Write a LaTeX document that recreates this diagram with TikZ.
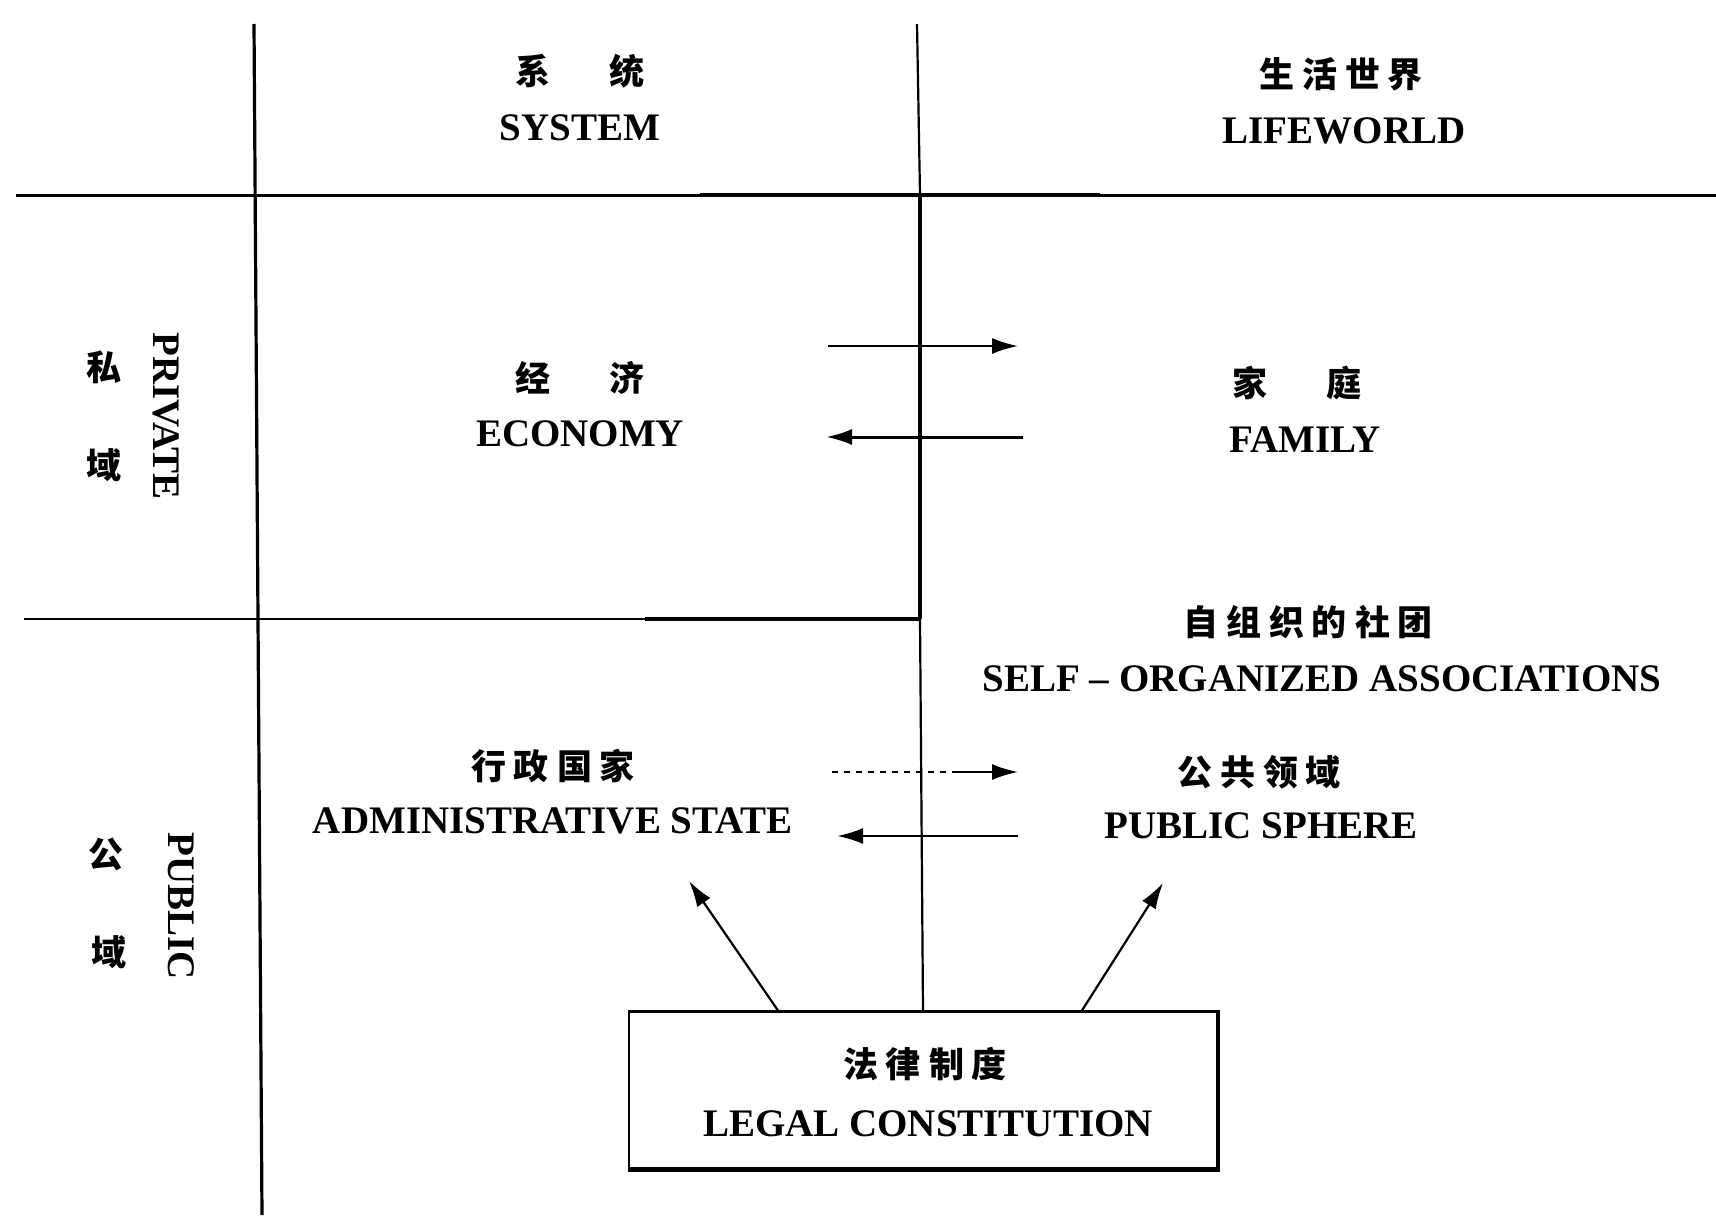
\documentclass[tikz,border=0pt]{standalone}
\usepackage{fontspec}
\setmainfont{Liberation Serif}
\newfontfamily\cjk{Noto Sans CJK SC}
\usetikzlibrary{arrows.meta}
\newcommand\gp{\hspace{4pt}}
\tikzset{
  lat/.style={font=\fontsize{19.5}{22}\selectfont\bfseries, inner sep=0pt},
  han/.style={font=\fontsize{17.5}{20}\selectfont\cjk\bfseries, inner sep=0pt},
  rule/.style={line width=1.1pt},
  heavy/.style={line width=2.4pt},
  arr/.style={line width=1.1pt, -{Latex[length=13pt,width=8pt]}},
  framebox/.style={draw, line width=1.2pt, minimum width=294pt, minimum height=78.5pt, inner sep=0pt}
}
\begin{document}
\begin{tikzpicture}[x=0.5pt,y=-0.5pt]
\useasboundingbox (0,0) rectangle (1716,1215);
% grid lines
\draw[rule, line width=1.6pt] (254,24) -- (262,1215);
\draw[rule, line width=1.5pt] (16,195) -- (1716,195);
\draw[heavy] (700,195) -- (1100,195);
\draw[rule] (917,24) -- (920,195);
\draw[rule, line width=1.7pt] (920,195) -- (920,619);
\draw[rule] (920,619) -- (923,1012);
\draw[rule] (24,619) -- (920,619);
\draw[heavy] (645,619) -- (921,619);

% column headers
\node[han] (sysC) at (580,71) {系\hspace{1.7em}统};
\node[lat] (sysE) at (580,128) {SYSTEM};
\node[han] (lwC) at (1341,74) {生\gp 活\gp 世\gp 界};
\node[lat] (lwE) at (1344,131) {LIFEWORLD};

% row headers
\node[han] (privC1) at (104,367) {私};
\node[han] (privC2) at (104,465) {域};
\node[lat, rotate=-90] (privE) at (166,416) {PRIVATE};
\node[han] (pubC1) at (106,854) {公};
\node[han] (pubC2) at (109,952) {域};
\node[lat, rotate=-90] (pubE) at (181,906) {PUBLIC};

% cells
\node[han] (ecoC) at (580,378) {经\hspace{1.7em}济};
\node[lat] (ecoE) at (580,434) {ECONOMY};
\node[han] (famC) at (1297,383) {家\hspace{1.7em}庭};
\node[lat] (famE) at (1305,440) {FAMILY};
\node[han] (socC) at (1308,622) {自\gp 组\gp 织\gp 的\gp 社\gp 团};
\node[lat] (socE) at (1322,679) {SELF -- ORGANIZED ASSOCIATIONS};
\node[han] (admC) at (553,766) {行\gp 政\gp 国\gp 家};
\node[lat] (admE) at (553,821) {ADMINISTRATIVE STATE};
\node[han] (psC) at (1259,772) {公\gp 共\gp 领\gp 域};
\node[lat] (psE) at (1261,826) {PUBLIC SPHERE};

% legal box
\node[framebox] (legal) at (923,1090) {};
\draw[line width=2.2pt] (legal.north east) -- (legal.south east) -- (legal.south west);
\node[han] (legC) at (925,1064) {法\gp 律\gp 制\gp 度};
\node[lat] (legE) at (928,1124) {LEGAL CONSTITUTION};

% arrow end points
\coordinate (e1s) at (828,346);  \coordinate (e1e) at (1018,346);
\coordinate (e2s) at (1023,437); \coordinate (e2e) at (826,437);
\coordinate (p1s) at (832,772);  \coordinate (p1m) at (958,772); \coordinate (p1e) at (1018,772);
\coordinate (p2s) at (1018,836); \coordinate (p2e) at (837,836);
\coordinate (dL) at (779,1012);  \coordinate (dLe) at (689,881);
\coordinate (dR) at (1081,1012); \coordinate (dRe) at (1163,883);

\draw[arr] (e1s) -- (e1e);
\draw[arr, line width=1.5pt] (e2s) -- (e2e);
\draw[line width=1.1pt, dashed] (p1s) -- (p1m);
\draw[arr] (p1m) -- (p1e);
\draw[arr, line width=1.3pt] (p2s) -- (p2e);
\draw[arr] (dL) -- (dLe);
\draw[arr] (dR) -- (dRe);
\end{tikzpicture}
\end{document}
